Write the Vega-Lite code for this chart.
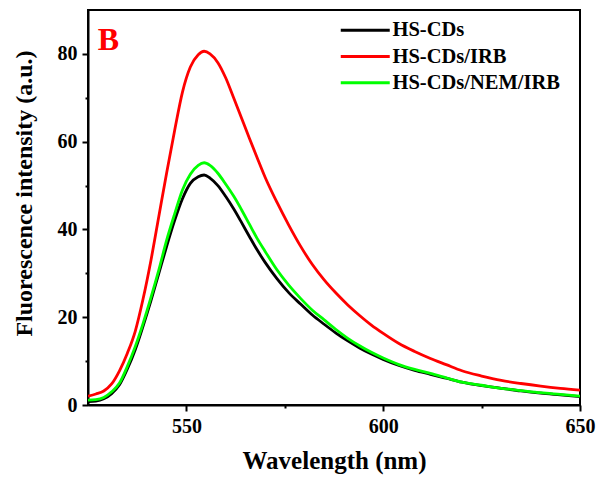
{
  "$schema": "https://vega.github.io/schema/vega-lite/v6.json",
  "width": 492,
  "height": 395,
  "autosize": "none",
  "padding": {"left": 88, "top": 10, "right": 18, "bottom": 74},
  "background": "white",
  "config": {
    "view": {"stroke": "black", "strokeWidth": 2},
    "font": "Liberation Serif",
    "axis": {
      "labelFont": "Liberation Serif", "labelFontWeight": "bold", "labelFontSize": 20, "labelColor": "black",
      "titleFont": "Liberation Serif", "titleFontWeight": "bold", "titleColor": "black",
      "domainColor": "black", "domainWidth": 2, "tickColor": "black", "tickWidth": 2, "grid": false
    },
    "legend": {
      "labelFont": "Liberation Serif", "labelFontWeight": "bold", "labelFontSize": 20.5, "labelColor": "black", "labelLimit": 400
    }
  },
  "data": {
    "values": [
      {"wl": 525, "I": 0.8, "s": "HS-CDs"}, {"wl": 527, "I": 0.9, "s": "HS-CDs"}, {"wl": 529, "I": 1.4, "s": "HS-CDs"}, {"wl": 531, "I": 2.6, "s": "HS-CDs"}, {"wl": 533, "I": 4.6, "s": "HS-CDs"}, {"wl": 535, "I": 8.2, "s": "HS-CDs"}, {"wl": 537, "I": 12.6, "s": "HS-CDs"}, {"wl": 539, "I": 18.0, "s": "HS-CDs"}, {"wl": 541, "I": 23.8, "s": "HS-CDs"}, {"wl": 543, "I": 30.0, "s": "HS-CDs"}, {"wl": 545, "I": 36.2, "s": "HS-CDs"}, {"wl": 547, "I": 42.0, "s": "HS-CDs"}, {"wl": 549, "I": 47.0, "s": "HS-CDs"}, {"wl": 551, "I": 50.5, "s": "HS-CDs"}, {"wl": 553, "I": 52.0, "s": "HS-CDs"}, {"wl": 554.5, "I": 52.4, "s": "HS-CDs"}, {"wl": 556, "I": 51.7, "s": "HS-CDs"}, {"wl": 558, "I": 50.0, "s": "HS-CDs"}, {"wl": 560, "I": 47.5, "s": "HS-CDs"}, {"wl": 562, "I": 44.7, "s": "HS-CDs"}, {"wl": 564, "I": 41.6, "s": "HS-CDs"}, {"wl": 566, "I": 38.4, "s": "HS-CDs"}, {"wl": 568, "I": 35.3, "s": "HS-CDs"}, {"wl": 570, "I": 32.5, "s": "HS-CDs"}, {"wl": 573, "I": 28.8, "s": "HS-CDs"}, {"wl": 576, "I": 25.6, "s": "HS-CDs"}, {"wl": 579, "I": 23.0, "s": "HS-CDs"}, {"wl": 582, "I": 20.5, "s": "HS-CDs"}, {"wl": 585, "I": 18.4, "s": "HS-CDs"}, {"wl": 588, "I": 16.4, "s": "HS-CDs"}, {"wl": 591, "I": 14.6, "s": "HS-CDs"}, {"wl": 594, "I": 13.0, "s": "HS-CDs"}, {"wl": 597, "I": 11.6, "s": "HS-CDs"}, {"wl": 600, "I": 10.4, "s": "HS-CDs"}, {"wl": 604, "I": 9.0, "s": "HS-CDs"}, {"wl": 608, "I": 7.9, "s": "HS-CDs"}, {"wl": 612, "I": 7.0, "s": "HS-CDs"}, {"wl": 616, "I": 6.1, "s": "HS-CDs"}, {"wl": 620, "I": 5.2, "s": "HS-CDs"}, {"wl": 625, "I": 4.4, "s": "HS-CDs"}, {"wl": 630, "I": 3.8, "s": "HS-CDs"}, {"wl": 635, "I": 3.2, "s": "HS-CDs"}, {"wl": 640, "I": 2.7, "s": "HS-CDs"}, {"wl": 645, "I": 2.3, "s": "HS-CDs"}, {"wl": 650, "I": 1.9, "s": "HS-CDs"},

      {"wl": 525, "I": 2.0, "s": "HS-CDs/IRB"}, {"wl": 527, "I": 2.5, "s": "HS-CDs/IRB"}, {"wl": 529, "I": 3.2, "s": "HS-CDs/IRB"}, {"wl": 531, "I": 4.8, "s": "HS-CDs/IRB"}, {"wl": 533, "I": 7.8, "s": "HS-CDs/IRB"}, {"wl": 535, "I": 11.8, "s": "HS-CDs/IRB"}, {"wl": 537, "I": 16.8, "s": "HS-CDs/IRB"}, {"wl": 539, "I": 24.2, "s": "HS-CDs/IRB"}, {"wl": 541, "I": 33.0, "s": "HS-CDs/IRB"}, {"wl": 543, "I": 43.0, "s": "HS-CDs/IRB"}, {"wl": 545, "I": 53.0, "s": "HS-CDs/IRB"}, {"wl": 547, "I": 62.5, "s": "HS-CDs/IRB"}, {"wl": 549, "I": 71.3, "s": "HS-CDs/IRB"}, {"wl": 551, "I": 77.0, "s": "HS-CDs/IRB"}, {"wl": 553, "I": 79.8, "s": "HS-CDs/IRB"}, {"wl": 554.5, "I": 80.6, "s": "HS-CDs/IRB"}, {"wl": 556, "I": 80.0, "s": "HS-CDs/IRB"}, {"wl": 558, "I": 78.0, "s": "HS-CDs/IRB"}, {"wl": 560, "I": 74.5, "s": "HS-CDs/IRB"}, {"wl": 562, "I": 70.0, "s": "HS-CDs/IRB"}, {"wl": 564, "I": 65.4, "s": "HS-CDs/IRB"}, {"wl": 566, "I": 60.8, "s": "HS-CDs/IRB"}, {"wl": 568, "I": 56.3, "s": "HS-CDs/IRB"}, {"wl": 570, "I": 51.9, "s": "HS-CDs/IRB"}, {"wl": 573, "I": 46.2, "s": "HS-CDs/IRB"}, {"wl": 576, "I": 41.0, "s": "HS-CDs/IRB"}, {"wl": 579, "I": 36.2, "s": "HS-CDs/IRB"}, {"wl": 582, "I": 32.0, "s": "HS-CDs/IRB"}, {"wl": 585, "I": 28.5, "s": "HS-CDs/IRB"}, {"wl": 588, "I": 25.5, "s": "HS-CDs/IRB"}, {"wl": 591, "I": 22.8, "s": "HS-CDs/IRB"}, {"wl": 594, "I": 20.4, "s": "HS-CDs/IRB"}, {"wl": 597, "I": 18.2, "s": "HS-CDs/IRB"}, {"wl": 600, "I": 16.3, "s": "HS-CDs/IRB"}, {"wl": 604, "I": 14.0, "s": "HS-CDs/IRB"}, {"wl": 608, "I": 12.2, "s": "HS-CDs/IRB"}, {"wl": 612, "I": 10.6, "s": "HS-CDs/IRB"}, {"wl": 616, "I": 9.2, "s": "HS-CDs/IRB"}, {"wl": 620, "I": 7.8, "s": "HS-CDs/IRB"}, {"wl": 625, "I": 6.6, "s": "HS-CDs/IRB"}, {"wl": 630, "I": 5.6, "s": "HS-CDs/IRB"}, {"wl": 635, "I": 4.9, "s": "HS-CDs/IRB"}, {"wl": 640, "I": 4.3, "s": "HS-CDs/IRB"}, {"wl": 645, "I": 3.8, "s": "HS-CDs/IRB"}, {"wl": 650, "I": 3.4, "s": "HS-CDs/IRB"},

      {"wl": 525, "I": 1.1, "s": "HS-CDs/NEM/IRB"}, {"wl": 527, "I": 1.2, "s": "HS-CDs/NEM/IRB"}, {"wl": 529, "I": 1.7, "s": "HS-CDs/NEM/IRB"}, {"wl": 531, "I": 3.0, "s": "HS-CDs/NEM/IRB"}, {"wl": 533, "I": 5.0, "s": "HS-CDs/NEM/IRB"}, {"wl": 535, "I": 8.8, "s": "HS-CDs/NEM/IRB"}, {"wl": 537, "I": 13.3, "s": "HS-CDs/NEM/IRB"}, {"wl": 539, "I": 18.6, "s": "HS-CDs/NEM/IRB"}, {"wl": 541, "I": 24.5, "s": "HS-CDs/NEM/IRB"}, {"wl": 543, "I": 30.8, "s": "HS-CDs/NEM/IRB"}, {"wl": 545, "I": 37.6, "s": "HS-CDs/NEM/IRB"}, {"wl": 547, "I": 43.5, "s": "HS-CDs/NEM/IRB"}, {"wl": 549, "I": 49.0, "s": "HS-CDs/NEM/IRB"}, {"wl": 551, "I": 52.6, "s": "HS-CDs/NEM/IRB"}, {"wl": 553, "I": 54.6, "s": "HS-CDs/NEM/IRB"}, {"wl": 554.5, "I": 55.2, "s": "HS-CDs/NEM/IRB"}, {"wl": 556, "I": 54.6, "s": "HS-CDs/NEM/IRB"}, {"wl": 558, "I": 52.8, "s": "HS-CDs/NEM/IRB"}, {"wl": 560, "I": 50.3, "s": "HS-CDs/NEM/IRB"}, {"wl": 562, "I": 47.6, "s": "HS-CDs/NEM/IRB"}, {"wl": 564, "I": 44.5, "s": "HS-CDs/NEM/IRB"}, {"wl": 566, "I": 41.2, "s": "HS-CDs/NEM/IRB"}, {"wl": 568, "I": 37.9, "s": "HS-CDs/NEM/IRB"}, {"wl": 570, "I": 35.0, "s": "HS-CDs/NEM/IRB"}, {"wl": 573, "I": 30.8, "s": "HS-CDs/NEM/IRB"}, {"wl": 576, "I": 27.3, "s": "HS-CDs/NEM/IRB"}, {"wl": 579, "I": 24.3, "s": "HS-CDs/NEM/IRB"}, {"wl": 582, "I": 21.6, "s": "HS-CDs/NEM/IRB"}, {"wl": 585, "I": 19.4, "s": "HS-CDs/NEM/IRB"}, {"wl": 588, "I": 17.2, "s": "HS-CDs/NEM/IRB"}, {"wl": 591, "I": 15.2, "s": "HS-CDs/NEM/IRB"}, {"wl": 594, "I": 13.5, "s": "HS-CDs/NEM/IRB"}, {"wl": 597, "I": 12.0, "s": "HS-CDs/NEM/IRB"}, {"wl": 600, "I": 10.7, "s": "HS-CDs/NEM/IRB"}, {"wl": 604, "I": 9.2, "s": "HS-CDs/NEM/IRB"}, {"wl": 608, "I": 8.1, "s": "HS-CDs/NEM/IRB"}, {"wl": 612, "I": 7.2, "s": "HS-CDs/NEM/IRB"}, {"wl": 616, "I": 6.2, "s": "HS-CDs/NEM/IRB"}, {"wl": 620, "I": 5.2, "s": "HS-CDs/NEM/IRB"}, {"wl": 625, "I": 4.5, "s": "HS-CDs/NEM/IRB"}, {"wl": 630, "I": 3.8, "s": "HS-CDs/NEM/IRB"}, {"wl": 635, "I": 3.3, "s": "HS-CDs/NEM/IRB"}, {"wl": 640, "I": 2.8, "s": "HS-CDs/NEM/IRB"}, {"wl": 645, "I": 2.4, "s": "HS-CDs/NEM/IRB"}, {"wl": 650, "I": 2.0, "s": "HS-CDs/NEM/IRB"}
    ]
  },
  "layer": [
    {
      "mark": {"type": "line", "strokeWidth": 2.8, "interpolate": "monotone", "clip": true},
      "encoding": {
        "x": {
          "field": "wl", "type": "quantitative",
          "scale": {"domain": [525, 650], "nice": false, "zero": false},
          "axis": {
            "title": "Wavelength (nm)",
            "titleFontSize": 25,
            "values": [550, 575, 600, 625, 650],
            "labelExpr": "datum.value % 50 == 0 ? datum.label : ''",
            "labelFlush": false,
            "tickSize": {"condition": {"test": "datum.value % 50 == 0", "value": 6}, "value": 3},
            "labelPadding": 5,
            "titlePadding": 12
          }
        },
        "y": {
          "field": "I", "type": "quantitative",
          "scale": {"domain": [0, 90], "nice": false},
          "axis": {
            "title": "Fluorescence intensity (a.u.)",
            "titleFontSize": 24,
            "titleY": 183,
            "values": [0, 10, 20, 30, 40, 50, 60, 70, 80],
            "labelExpr": "datum.value % 20 == 0 ? datum.label : ''",
            "labelFlush": false,
            "tickSize": {"condition": {"test": "datum.value % 20 == 0", "value": 6}, "value": 3},
            "labelPadding": 5,
            "titlePadding": 21
          }
        },
        "color": {
          "field": "s", "type": "nominal",
          "sort": ["HS-CDs", "HS-CDs/IRB", "HS-CDs/NEM/IRB"],
          "scale": {"domain": ["HS-CDs", "HS-CDs/IRB", "HS-CDs/NEM/IRB"], "range": ["#000000", "#ff0000", "#00ff00"]},
          "legend": {
            "title": null,
            "orient": "none",
            "legendX": 267,
            "legendY": 10,
            "padding": 0,
            "symbolType": "M-4,0H4",
            "symbolSize": 150,
            "symbolStrokeWidth": 3,
            "labelOffset": 17,
            "rowPadding": 5.3
          }
        }
      }
    },
    {
      "data": {"values": [{"label": "B"}]},
      "mark": {"type": "text", "font": "Liberation Serif", "fontWeight": "bold", "fontSize": 32, "fill": "#ff0000", "align": "center", "baseline": "alphabetic"},
      "encoding": {
        "text": {"field": "label"},
        "x": {"datum": 530.2, "type": "quantitative"},
        "y": {"datum": 81, "type": "quantitative"}
      }
    }
  ]
}
